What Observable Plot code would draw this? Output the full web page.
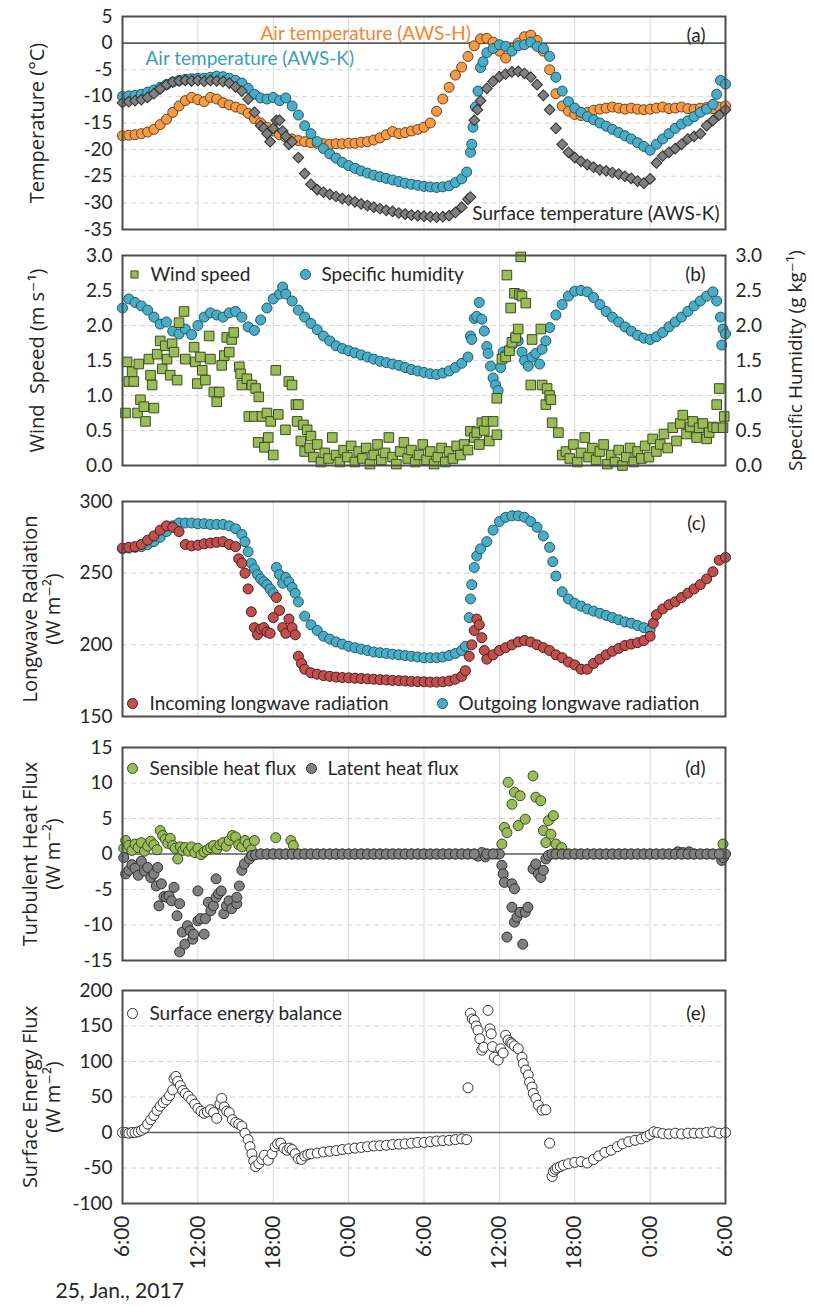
<!DOCTYPE html>
<html><head><meta charset="utf-8">
<script src="https://cdn.jsdelivr.net/npm/d3@7"></script>
<script src="https://cdn.jsdelivr.net/npm/@observablehq/plot@0.6"></script>
<style>
body{margin:0;background:#fff;}
#root{position:relative;width:814px;height:1306px;overflow:hidden;background:#fff;}
#root svg{position:absolute;left:0;overflow:visible;}
</style></head><body><div id="root"></div>
<script>
// ---------- data (hours since 25 Jan 2017 06:00, value) ----------
const xTicks = [0, 6, 12, 18, 24, 30, 36, 42, 48];
const xTickLabels = ["6:00","12:00","18:00","0:00","6:00","12:00","18:00","0:00","6:00"];

const tempTicks = [-35,-30,-25,-20,-15,-10,-5,0,5];
const windTicks = [0,0.5,1,1.5,2,2.5,3];
const lwTicks = [150,200,250,300];
const turbTicks = [-15,-10,-5,0,5,10,15];
const sebTicks = [-100,-50,0,50,100,150,200];

const airTempH = [[0,-17.4],[0.5,-17.3],[1,-17.2],[1.5,-17],[2,-16.7],[2.5,-16.2],[3,-15.3],[3.5,-14.3],[4,-13],[4.5,-11.8],[5,-10.8],[5.5,-10.2],[6,-10.6],[6.5,-11],[7,-10.2],[7.5,-10.5],[8,-11.2],[8.5,-11.6],[9,-12],[9.5,-12.4],[10,-13.2],[10.5,-14.2],[11,-15],[11.5,-15.8],[12,-16.5],[12.5,-17.2],[13,-17.7],[13.5,-18],[14,-18.3],[14.5,-18.5],[15,-18.7],[15.5,-18.8],[16,-18.9],[16.5,-19],[17,-18.9],[17.5,-18.9],[18,-18.8],[18.5,-18.8],[19,-18.6],[19.5,-18.5],[20,-18.2],[20.5,-17.8],[21,-17.2],[21.5,-16.6],[22,-17],[22.5,-16.8],[23,-16.5],[23.5,-16.2],[24,-15.8],[24.5,-15],[25,-12.8],[25.5,-10.5],[26,-8.3],[26.5,-6],[27,-4.5],[27.5,-2.5],[28,-0.5],[28.5,0.8],[29,0.9],[29.5,0.2],[30,-1.5],[30.5,-2.8],[31,-1],[31.5,0],[32,1.2],[32.5,1.5],[33,0.5],[33.5,-1.5],[34,-5],[34.5,-9.5],[35,-11.8],[35.5,-12.8],[36,-13.4],[36.5,-13.6],[37,-13],[37.5,-12.6],[38,-12.4],[38.5,-12.2],[39,-12],[39.5,-12.2],[40,-12.4],[40.5,-12.2],[41,-12.4],[41.5,-12.5],[42,-12.4],[42.5,-12.2],[43,-12],[43.5,-12.3],[44,-12.2],[44.5,-12],[45,-12.3],[45.5,-12.4],[46,-12.2],[46.5,-12.1],[47,-12.3],[47.5,-12],[48,-11.8]];

const airTempK = [[0,-10],[0.5,-9.9],[1,-9.8],[1.5,-9.6],[2,-9.2],[2.5,-8.8],[3,-8.3],[3.5,-7.8],[4,-7.3],[4.5,-7],[5,-6.8],[5.5,-6.7],[6,-6.6],[6.5,-6.6],[7,-6.4],[7.5,-6.2],[8,-6.3],[8.5,-6.6],[9,-7],[9.5,-7.5],[10,-8.5],[10.5,-9.6],[11,-10.3],[11.5,-10.5],[12,-10.2],[12.5,-10.8],[13,-10.3],[13.5,-11.8],[14,-13.5],[14.5,-15.5],[15,-17],[15.5,-18.5],[16,-19.8],[16.5,-20.8],[17,-21.6],[17.5,-22.4],[18,-23],[18.5,-23.5],[19,-24],[19.5,-24.4],[20,-24.8],[20.5,-25.1],[21,-25.4],[21.5,-25.7],[22,-26],[22.5,-26.3],[23,-26.5],[23.5,-26.7],[24,-26.9],[24.5,-27],[25,-27.1],[25.5,-27],[26,-26.8],[26.5,-26.2],[27,-25.5],[27.4,-24.2],[27.7,-20.5],[27.8,-19],[27.9,-15.8],[28.1,-12],[28.3,-9],[28.5,-4.6],[28.7,-3.5],[29,-1.8],[29.5,-1],[30,-0.3],[30.5,-0.6],[31,-1.5],[31.5,-0.5],[32,-0.3],[32.5,0.2],[33,-0.6],[33.5,-1],[34,-2.5],[34.5,-6.4],[35,-9],[35.5,-11],[36,-12.2],[36.5,-13],[37,-13.8],[37.5,-14.4],[38,-15],[38.5,-15.6],[39,-16.2],[39.5,-16.8],[40,-17.4],[40.5,-18],[41,-18.7],[41.5,-19.4],[42,-20.1],[42.5,-19],[43,-18],[43.5,-17],[44,-16],[44.5,-15.2],[45,-14.6],[45.5,-13.8],[46,-13],[46.5,-12.4],[47,-11.5],[47.3,-9.6],[47.6,-7],[48,-7.7]];

const surfTempK = [[0,-11.2],[0.5,-11],[1,-10.8],[1.5,-10.6],[2,-10.2],[2.5,-9.5],[3,-8.6],[3.5,-7.8],[4,-7.3],[4.5,-7.1],[5,-7],[5.5,-7.1],[6,-7],[6.5,-7.2],[7,-7],[7.5,-7.1],[8,-7.2],[8.5,-7.5],[9,-8.2],[9.5,-9],[10,-10.5],[10.5,-13],[11,-15.5],[11.25,-16],[11.5,-17],[11.75,-18.5],[12,-16],[12.25,-14.5],[12.5,-14.5],[12.75,-16.5],[13,-17.5],[13.25,-19],[13.5,-18.5],[14,-21.5],[14.5,-24.5],[15,-26.5],[15.5,-27.5],[16,-28],[16.5,-28.4],[17,-28.8],[17.5,-29.2],[18,-29.5],[18.5,-29.8],[19,-30.2],[19.5,-30.5],[20,-30.8],[20.5,-31.1],[21,-31.4],[21.5,-31.6],[22,-31.9],[22.5,-32.1],[23,-32.3],[23.5,-32.4],[24,-32.5],[24.5,-32.6],[25,-32.7],[25.5,-32.6],[26,-32.4],[26.5,-31.8],[27,-30.8],[27.5,-29.3],[27.7,-28.9],[28,-14.5],[28.25,-12.5],[28.5,-10.8],[29,-8.5],[29.5,-7.2],[30,-6.3],[30.5,-5.8],[31,-5.4],[31.5,-5.3],[32,-5.7],[32.5,-6.4],[33,-7.8],[33.5,-9.8],[34,-12.5],[34.5,-16],[35,-19],[35.5,-20.5],[36,-21.5],[36.5,-22.2],[37,-22.8],[37.5,-23.3],[38,-23.8],[38.5,-24],[39,-24.3],[39.5,-24.6],[40,-25],[40.5,-25.4],[41,-25.9],[41.5,-26.3],[42,-25.5],[42.5,-22.5],[43,-21.2],[43.5,-20.5],[44,-19.8],[44.5,-19],[45,-18],[45.5,-17.5],[46,-17],[46.5,-15.5],[47,-14.5],[47.5,-13.5],[48,-12.5]];

const windSpeed = [[0.24,0.75],[0.37,1.48],[0.5,1.2],[0.77,1.34],[0.9,1.2],[1.2,0.75],[1.3,1.45],[1.43,0.94],[1.7,0.84],[1.83,0.63],[2.1,1.52],[2.23,1.29],[2.36,1.15],[2.5,0.82],[2.76,1.59],[3,1.78],[3.16,1.38],[3.4,1.71],[3.55,1.52],[3.8,1.29],[3.95,1.74],[4.1,1.62],[4.35,1.22],[4.5,2.04],[4.9,2.2],[5,1.52],[5.7,1.69],[5.8,1.48],[5.95,1.17],[6.2,1.55],[6.35,1.36],[6.6,1.22],[6.9,1.85],[7,1.52],[7.27,1.05],[7.5,0.91],[7.7,1.05],[7.9,1.43],[8.1,1.57],[8.3,1.83],[8.5,1.62],[8.7,1.8],[8.86,1.9],[9.3,1.41],[9.4,1.31],[9.5,1.15],[9.9,1.24],[10.06,0.7],[10.3,1.15],[10.5,0.7],[10.6,1.1],[10.8,0.33],[10.85,0.98],[11.1,0.7],[11.3,0.26],[11.5,0.75],[11.6,0.4],[11.8,0.63],[12,0.15],[12.2,1.36],[12.4,0.73],[12.97,0.51],[13.24,1.2],[13.5,1.15],[13.8,0.87],[13.9,0.63],[14,0.87],[14.2,0.35],[14.4,0.58],[14.5,0.2],[14.7,0.51],[14.9,0.25],[15,0.42],[15.2,0.12],[15.5,0.3],[15.8,0.05],[16.1,0.18],[16.4,0.1],[16.7,0.4],[17,0.15],[17.3,0.05],[17.6,0.22],[17.9,0.12],[18.2,0.28],[18.5,0.05],[18.8,0.2],[19.1,0.1],[19.4,0.25],[19.7,0.02],[20,0.15],[20.3,0.3],[20.6,0.08],[20.9,0.18],[21.2,0.4],[21.5,0.12],[21.8,0.02],[22.1,0.2],[22.4,0.33],[22.7,0.1],[23,0.22],[23.3,0.05],[23.6,0.15],[23.9,0.3],[24.2,0.08],[24.5,0.2],[24.8,0.02],[25.1,0.12],[25.4,0.25],[25.7,0.05],[26,0.2],[26.3,0.1],[26.6,0.28],[26.9,0.15],[27.2,0.3],[27.5,0.22],[27.7,0.49],[28,0.4],[28.2,0.47],[28.4,0.3],[28.6,0.61],[28.8,0.5],[29,0.63],[29.2,0.35],[29.5,0.63],[29.8,0.44],[29.8,0.96],[30.2,1.52],[30.5,1.55],[30.6,2.72],[30.8,1.64],[30.9,2.25],[31,1.76],[31.2,2.46],[31.3,1.83],[31.5,1.95],[31.6,2.44],[31.7,2.98],[31.8,2.42],[32.1,2.32],[32.5,1.15],[32.6,1.8],[33.3,1.95],[33.4,1.15],[33.7,0.87],[33.8,1.1],[34,1],[34.1,0.94],[34.2,0.61],[34.7,0.47],[35,0.15],[35.3,0.2],[35.6,0.1],[35.9,0.3],[36.2,0.05],[36.5,0.18],[36.8,0.4],[37.1,0.12],[37.4,0.25],[37.7,0.08],[38,0.2],[38.3,0.3],[38.6,0.02],[38.9,0.15],[39.2,0.05],[39.5,0.22],[39.8,0],[40.1,0.12],[40.4,0.25],[40.7,0.05],[41,0.2],[41.3,0.1],[41.6,0.28],[41.9,0.12],[42.2,0.38],[42.5,0.2],[42.8,0.3],[43.1,0.45],[43.4,0.25],[43.8,0.54],[44.1,0.35],[44.4,0.6],[44.6,0.72],[44.9,0.45],[45.2,0.55],[45.4,0.63],[45.7,0.4],[45.9,0.54],[46.2,0.6],[46.5,0.38],[46.7,0.47],[47,0.55],[47.3,0.54],[47.3,0.87],[47.5,1.1],[47.8,0.54],[47.9,0.7]];

const specHumidity = [[0,2.25],[0.5,2.38],[1,2.33],[1.5,2.28],[2,2.22],[2.5,2.12],[3,2.02],[3.5,2.05],[4,1.92],[4.5,1.88],[5,1.95],[5.5,1.87],[6,2],[6.5,2.12],[7,2.18],[7.5,2.15],[8,2.12],[8.5,2.18],[9,2.2],[9.5,2.12],[10,1.98],[10.5,1.93],[11,2.08],[11.5,2.25],[12,2.38],[12.5,2.45],[12.75,2.55],[13,2.45],[13.5,2.35],[14,2.22],[14.5,2.12],[15,2.03],[15.5,1.94],[16,1.85],[16.5,1.78],[17,1.71],[17.5,1.67],[18,1.64],[18.5,1.61],[19,1.58],[19.5,1.55],[20,1.52],[20.5,1.49],[21,1.47],[21.5,1.45],[22,1.43],[22.5,1.4],[23,1.37],[23.5,1.35],[24,1.33],[24.5,1.31],[25,1.3],[25.5,1.32],[26,1.35],[26.5,1.4],[27,1.46],[27.5,1.55],[27.7,1.85],[27.8,1.8],[28,2.1],[28.2,2.13],[28.4,2.33],[28.6,2.09],[28.8,1.92],[29,1.7],[29.1,1.6],[29.3,1.42],[29.5,1.25],[29.7,1.15],[29.9,1.07],[30.1,1.4],[30.3,1.62],[30.5,1.58],[30.8,1.65],[31,1.72],[31.3,1.85],[31.5,1.78],[31.8,1.62],[32,1.5],[32.3,1.42],[32.6,1.55],[32.9,1.6],[33.2,1.45],[33.4,1.66],[33.7,1.78],[34,1.97],[34.5,2.15],[35,2.3],[35.5,2.42],[36,2.49],[36.5,2.5],[37,2.48],[37.5,2.4],[38,2.3],[38.5,2.2],[39,2.12],[39.5,2.05],[40,1.98],[40.5,1.92],[41,1.86],[41.5,1.82],[42,1.8],[42.5,1.84],[43,1.9],[43.5,1.98],[44,2.05],[44.5,2.12],[45,2.2],[45.5,2.28],[46,2.35],[46.5,2.42],[47,2.48],[47.3,2.35],[47.6,2.12],[47.7,1.72],[47.8,1.95],[48,1.88]];

const lwIncoming = [[0,267.5],[0.5,268],[1,268.5],[1.5,270],[2,273],[2.5,276],[3,280],[3.5,283],[4,282],[4.5,279],[5,270],[5.5,269],[6,269.5],[6.5,270.5],[7,271],[7.5,271.5],[8,272],[8.5,270],[9,268.5],[9.25,260],[9.5,257],[9.75,250],[10,239],[10.25,223],[10.5,212],[10.75,207],[11,211],[11.25,212],[11.5,209],[11.75,208],[12,219],[12.25,233],[12.5,224],[12.75,212],[13,208],[13.25,218],[13.5,212],[13.75,207],[14,192],[14.25,187],[14.5,183],[15,180.5],[15.5,179.5],[16,178.5],[16.5,178],[17,177.5],[17.5,177.2],[18,177],[18.5,176.7],[19,176.5],[19.5,176.2],[20,176],[20.5,175.7],[21,175.5],[21.5,175.2],[22,175],[22.5,174.8],[23,174.5],[23.5,174.3],[24,174.2],[24.5,174],[25,174],[25.5,174.2],[26,174.8],[26.5,176],[27,178],[27.3,182],[27.6,192],[27.8,200],[28,210],[28.2,218],[28.4,214],[28.6,205],[28.8,196],[29,190],[29.5,193],[30,196],[30.5,198],[31,200],[31.5,202],[32,203],[32.5,202],[33,200],[33.5,198],[34,196],[34.5,193],[35,191],[35.5,188],[36,186],[36.5,183],[37,183],[37.5,187],[38,190],[38.5,193],[39,195.5],[39.5,197.5],[40,199.5],[40.5,200.5],[41,201.5],[41.5,203],[42,206],[42.25,215],[42.5,221],[43,225],[43.5,228],[44,230],[44.5,233],[45,236],[45.5,239],[46,242],[46.5,246],[47,251],[47.5,259],[48,261]];

const lwOutgoing = [[0,267],[0.5,267.5],[1,268],[1.5,268.5],[2,270],[2.5,272],[3,275],[3.5,279],[4,283],[4.5,285],[5,285],[5.5,285],[6,284.5],[6.5,284.5],[7,284],[7.5,284],[8,284],[8.5,283],[9,281],[9.5,277],[9.75,272],[10,265],[10.25,257],[10.5,253],[10.75,249],[11,246],[11.25,244],[11.5,242],[11.75,239],[12,236],[12.25,254],[12.5,249],[12.75,243],[13,247],[13.25,244],[13.5,240],[13.75,236],[14,230],[14.5,220],[15,214],[15.5,210],[16,206],[16.5,204],[17,202],[17.5,200.5],[18,199],[18.5,198],[19,197],[19.5,196],[20,195],[20.5,194.5],[21,194],[21.5,193.5],[22,193],[22.5,192.5],[23,192],[23.5,191.5],[24,191],[24.5,191],[25,191],[25.5,191.5],[26,192.5],[26.5,194],[27,196],[27.3,199],[27.6,219],[27.7,232],[27.8,242],[28,254],[28.2,262],[28.5,267],[29,272],[29.5,280],[30,286],[30.5,289],[31,290],[31.5,290],[32,289],[32.5,286],[33,282],[33.5,276],[34,268],[34.25,258],[34.5,248],[35,237],[35.5,232],[36,229],[36.5,227],[37,225],[37.5,223.5],[38,222],[38.5,220.5],[39,219],[39.5,217.5],[40,216],[40.5,215],[41,213.5],[41.5,212],[42,210.5]];

// hours during which both turbulent fluxes are zero
const calmHours = [11,11.5,12,12.5,13,13.5,14,14.5,15,15.5,16,16.5,17,17.5,18,18.5,19,19.5,20,20.5,21,21.5,22,22.5,23,23.5,24,24.5,25,25.5,26,26.5,27,27.5,28,29,29.5,34.5,35,35.5,36,36.5,37,37.5,38,38.5,39,39.5,40,40.5,41,41.5,42,42.5,43,43.5,44,44.5,45,45.5,46,46.5,47,47.5];

const sensibleHeat = [[0.1,0.8],[0.25,1.9],[0.5,1.2],[0.75,0.5],[1,1.4],[1.25,0.9],[1.5,1.6],[1.75,0.4],[2,1.1],[2.25,1.8],[2.5,1.3],[2.75,0.6],[3,3.3],[3.2,2.6],[3.4,2.1],[3.6,1.5],[3.8,2.2],[4,1.2],[4.2,0.8],[4.4,-0.7],[4.6,1],[4.8,0.5],[5,0.9],[5.25,0.4],[5.5,1],[5.75,0.2],[6,0.8],[6.25,-0.1],[6.5,0.3],[6.75,0.6],[7,0.9],[7.25,1.2],[7.5,0.7],[7.75,1.3],[8,1.6],[8.25,1.1],[8.5,1.9],[8.75,2.6],[9,2.4],[9.25,1.3],[9.5,1],[9.75,1.9],[10,1.4],[10.25,0.6],[10.5,1.9],[12.2,2.3],[13.4,1.9],[13.6,1.2],[30.2,1.4],[30.4,3.75],[30.6,3],[30.7,10.1],[31,7],[31.2,8.7],[31.5,4],[31.65,8.2],[32.06,4.9],[32.68,11],[32.9,8],[33.3,7.5],[33.5,3.3],[33.7,1.6],[33.9,4.7],[34.1,2.8],[34.3,5.4],[34.5,1.4],[34.96,0.9],[47.8,1.4]];

const latentHeat = [[0.1,-0.5],[0.25,-2.8],[0.5,-2.3],[0.75,-1.5],[1,-2],[1.25,-3],[1.5,-1],[1.75,-2.4],[2,-1.9],[2.25,-3.3],[2.5,-2.8],[2.69,-4.5],[2.8,-1.9],[2.9,-7.3],[3.1,-4.2],[3.3,-6],[3.5,-6.1],[3.7,-5.9],[3.9,-6.6],[4.1,-4.7],[4.34,-8.7],[4.55,-7],[4.55,-13.8],[4.76,-11],[4.96,-12.7],[5.17,-10.1],[5.38,-10.8],[5.59,-12],[5.66,-11.3],[6,-9.4],[6,-5.2],[6.2,-9.1],[6.5,-11.3],[6.6,-9.1],[6.83,-6.8],[7.03,-8],[7.24,-7.3],[7.45,-6.1],[7.45,-3.5],[7.65,-5.6],[7.86,-5.2],[8.07,-8.4],[8.27,-7.3],[8.48,-6.6],[8.69,-7.7],[9.1,-7],[9.1,-6.1],[9.3,-4.5],[9.5,-2.3],[9.7,-1.4],[10.1,-0.7],[10.3,-0.2],[10.6,-0.1],[28.3,-0.3],[28.6,0.2],[28.9,-0.4],[29.8,0],[30,0],[30.2,-1.6],[30.3,-2.8],[30.4,-4],[30.6,-11.7],[31,-4.2],[31,-7.5],[31.2,-4.9],[31.2,-9.6],[31.4,-8.9],[31.65,-8.2],[31.86,-12.7],[32.06,-8.2],[32.27,-7.5],[32.68,-2.1],[32.9,-1.4],[33.1,-2.8],[33.3,-3.3],[33.5,-2.3],[33.7,-0.7],[33.9,-0.2],[34.2,0],[44.2,0.3],[44.6,0.2],[45.1,0.3],[47.7,-0.9],[47.85,-0.5],[48,0]];

const surfaceEnergy = [[0,0],[0.25,0],[0.5,-1],[0.75,0],[1,0],[1.25,1],[1.5,3],[1.75,6],[2,12],[2.25,18],[2.5,24],[2.75,31],[3,37],[3.25,42],[3.5,46],[3.75,52],[4,60],[4.1,76],[4.25,79],[4.4,72],[4.6,66],[4.8,59],[5,55],[5.25,51],[5.5,46],[5.75,40],[6,34],[6.25,30],[6.5,27],[6.75,29],[7,32],[7.25,28],[7.5,20],[7.75,40],[7.9,48],[8.1,36],[8.3,30],[8.5,28],[8.75,18],[9,14],[9.25,12],[9.5,9],[9.75,-1],[10,-10],[10.15,-20],[10.3,-30],[10.45,-40],[10.6,-48],[10.85,-44],[11.1,-38],[11.3,-32],[11.6,-39],[11.9,-30],[12.15,-20],[12.35,-16],[12.6,-15],[12.85,-22],[13.1,-25],[13.3,-22],[13.5,-24],[13.75,-30],[14,-37],[14.25,-38],[14.5,-33],[14.75,-31],[15,-30],[15.5,-29],[16,-27.5],[16.5,-26.5],[17,-25.5],[17.5,-24],[18,-23],[18.5,-22],[19,-21],[19.5,-20],[20,-19],[20.5,-18.5],[21,-18],[21.5,-17],[22,-16.5],[22.5,-16],[23,-15],[23.5,-14],[24,-14],[24.5,-13],[25,-12],[25.5,-11.5],[26,-11],[26.5,-10],[27,-9],[27.4,-10],[27.5,63],[27.7,168],[27.85,160],[28,158],[28.15,150],[28.3,144],[28.45,132],[28.6,116],[28.75,120],[29.1,172],[29.25,146],[29.35,139],[29.45,121],[29.6,106],[29.9,102],[30.1,118],[30.3,112],[30.5,137],[30.7,130],[30.9,127],[31,125],[31.2,122],[31.5,118],[31.8,106],[31.9,97],[32.1,88],[32.3,81],[32.4,71],[32.6,64],[32.7,55],[32.9,48],[33.1,38.5],[33.4,31.5],[33.7,32],[34,-15],[34.2,-62],[34.3,-55],[34.45,-52],[34.6,-50],[34.85,-48],[35.1,-46],[35.5,-44],[36,-42],[36.5,-41],[37,-43],[37.5,-38],[37.9,-33],[38.4,-28],[38.9,-25],[39.4,-20],[39.8,-16],[40.3,-13],[40.8,-11],[41.3,-9],[41.7,-6],[42,-3],[42.3,1],[42.6,0],[43,-1.5],[43.5,-2],[44,-1],[44.5,-2],[45,-1],[45.5,-1],[46,-1],[46.5,0],[47,1],[47.5,-1],[48,0]];

// ---------- styling ----------
const FONT = "Lato, 'Open Sans', sans-serif";
const TFONT = "'Open Sans', 'DejaVu Sans', sans-serif";
const C = {
  orange: "#F59A45", orangeS: "#6e4018", orangeT: "#EE8633",
  teal: "#4BACC6", tealS: "#1d5a6b", tealT: "#3A9FB8",
  gray: "#808080", grayS: "#303030",
  green: "#9BBB59", greenS: "#3b4d1e",
  red: "#C0504D", redS: "#4d1c1b"
};
const rows = a => a.map(([h, v]) => ({h, v}));
const root = document.getElementById("root");
const ML = 122, MR = 89, PAD = 10;

function panel(top, frameH, domain, marks, mb = PAD) {
  const svg = Plot.plot({
    width: 814, height: frameH + PAD + mb,
    marginLeft: ML, marginRight: MR, marginTop: PAD, marginBottom: mb,
    style: {fontFamily: FONT, fontSize: "19px", color: "#262626", background: "transparent", overflow: "visible"},
    x: {domain: [0, 48], axis: null},
    y: {domain, axis: null},
    marks
  });
  svg.style.top = (top - PAD) + "px";
  root.append(svg);
}
const grids = (dashed) => [
  Plot.gridX({ticks: xTicks, stroke: "#d9d9d9", strokeOpacity: 1}),
  Plot.gridY({ticks: dashed, stroke: "#d4d4d4", strokeOpacity: 1, strokeDasharray: "5,4"})
];
const yAxis = (ticks, fmt = d => String(d), anchor = "left") =>
  Plot.axisY({anchor, ticks, tickFormat: fmt, tickSize: 0, tickPadding: 10, label: null, fill: "#262626"});
const frame = Plot.frame({stroke: "#4d4d4d", strokeWidth: 2});
const zero = Plot.ruleY([0], {stroke: "#5a5a5a", strokeWidth: 1.6});
const dots = (data, o) => Plot.dot(rows(data), {x: "h", y: "v", r: 5, strokeWidth: 1, ...o});
const title = (t, dx, anchor = "left", size = 20) => Plot.text([t], {frameAnchor: anchor, dx, rotate: -90, textAnchor: "middle", lineAnchor: "middle", lineHeight: 1.12, fontFamily: TFONT, fontSize: size, fill: "#262626"});
const label = (t, anchor, dx, dy, o = {}) => Plot.text([t], {frameAnchor: anchor, dx, dy, lineAnchor: "middle", textAnchor: anchor.endsWith("right") ? "end" : "start", fontSize: 19, fill: "#262626", ...o});
const key = (anchor, dx, dy, o) => Plot.dot([0], {frameAnchor: anchor, dx, dy, r: 5, strokeWidth: 1, ...o});

// (a) temperature
panel(16, 213, [-35, 5], [
  ...grids([-30,-25,-20,-15,-10,-5]), zero,
  dots(airTempH, {fill: C.orange, stroke: C.orangeS}),
  dots(airTempK, {fill: C.teal, stroke: C.tealS}),
  dots(surfTempK, {symbol: "square", rotate: 45, r: 4.3, fill: C.gray, stroke: C.grayS}),
  frame, yAxis(tempTicks),
  title("Temperature (°C)", -86),
  label("Air temperature (AWS-H)", "top-left", 138, 17, {fill: C.orangeT}),
  label("Air temperature (AWS-K)", "top-left", 23, 42, {fill: C.tealT}),
  label("Surface temperature (AWS-K)", "bottom-right", -6, -16),
  label("(a)", "top-right", -20, 19)
]);

// (b) wind speed & specific humidity
panel(255, 210, [0, 3], [
  ...grids([0.5,1,1.5,2,2.5]),
  dots(specHumidity, {fill: C.teal, stroke: C.tealS}),
  dots(windSpeed, {symbol: "square", r: 5.4, fill: C.green, stroke: C.greenS}),
  frame, yAxis(windTicks, d3.format(".1f")), yAxis(windTicks, d3.format(".1f"), "right"),
  title("Wind\u00a0\u00a0Speed (m s\u207b\u00b9)", -86),
  title("Specific Humidity (g kg\u207b\u00b9)", 70, "right", 19),
  key("top-left", 12, 19, {symbol: "square", r: 4, fill: C.green, stroke: C.greenS}),
  label("Wind speed", "top-left", 28, 19),
  key("top-left", 183, 19, {fill: C.teal, stroke: C.tealS}),
  label("Specific humidity", "top-left", 199, 19),
  label("(b)", "top-right", -20, 19)
]);

// (c) longwave radiation
panel(501, 215, [150, 300], [
  ...grids([200, 250]),
  dots(lwOutgoing, {fill: C.teal, stroke: C.tealS}),
  dots(lwIncoming, {fill: C.red, stroke: C.redS}),
  frame, yAxis(lwTicks),
  title("Longwave Radiation\n(W m\u207b\u00b2)", -81),
  key("bottom-left", 10, -13, {fill: C.red, stroke: C.redS}),
  label("Incoming longwave radiation", "bottom-left", 27, -13),
  key("bottom-left", 320, -13, {fill: C.teal, stroke: C.tealS}),
  label("Outgoing longwave radiation", "bottom-left", 336, -13),
  label("(c)", "top-right", -20, 22)
]);

// (d) turbulent heat flux
const calm = calmHours.map(h => [h, 0]);
panel(747, 213, [-15, 15], [
  ...grids([-10,-5,5,10]), zero,
  dots(sensibleHeat.concat(calm), {fill: C.green, stroke: C.greenS}),
  dots(latentHeat.concat(calm), {fill: C.gray, stroke: C.grayS}),
  frame, yAxis(turbTicks),
  title("Turbulent Heat Flux\n(W m\u207b\u00b2)", -81),
  key("top-left", 10, 21, {fill: C.green, stroke: C.greenS}),
  label("Sensible heat flux", "top-left", 27, 21),
  key("top-left", 189, 21, {fill: C.gray, stroke: C.grayS}),
  label("Latent heat flux", "top-left", 205, 21),
  label("(d)", "top-right", -20, 21)
]);

// (e) surface energy balance
panel(990, 213, [-100, 200], [
  ...grids([-50,50,100,150]), zero,
  dots(surfaceEnergy, {fill: "white", stroke: "#333"}),
  frame, yAxis(sebTicks),
  Plot.axisX({ticks: xTicks, tickFormat: d => xTickLabels[xTicks.indexOf(d)], tickRotate: -90, tickSize: 0, tickPadding: 12, fontSize: 21, label: null, fill: "#262626"}),
  title("Surface Energy Flux\n(W m\u207b\u00b2)", -81),
  key("top-left", 10, 23, {fill: "white", stroke: "#333"}),
  label("Surface energy balance", "top-left", 27, 23),
  label("(e)", "top-right", -20, 23),
  label("25, Jan., 2017", "bottom-left", -67, 88, {fontSize: 21})
], 103);
</script></body></html>
